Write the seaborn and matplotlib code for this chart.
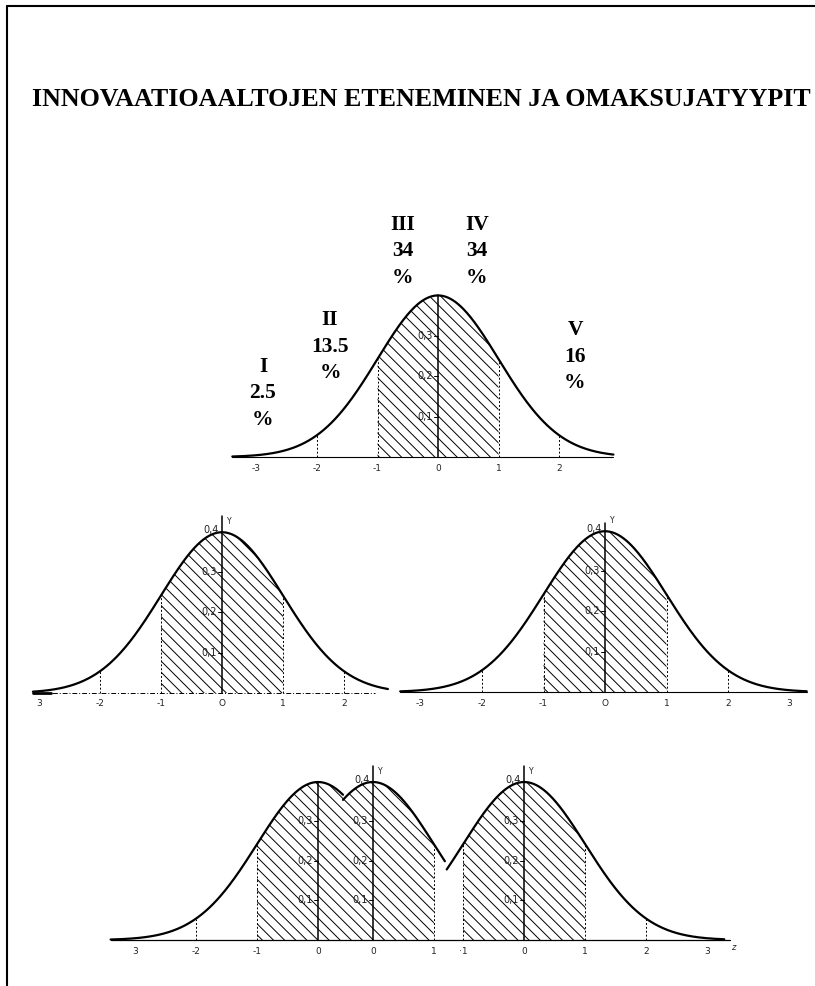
import numpy as np
import matplotlib
matplotlib.use("Agg")
import matplotlib.pyplot as plt
from matplotlib.lines import Line2D
import seaborn as sns

sns.set_style("white")
plt.rcParams["hatch.linewidth"] = 0.7
plt.rcParams["text.color"] = "black"

W, H = 815, 986

title = "INNOVAATIOAALTOJEN ETENEMINEN JA OMAKSUJATYYPIT"

# adopter groups (top curve)
group_names = ["I", "II", "III", "IV", "V"]
group_shares = ["2.5", "13.5", "34", "34", "16"]

# top curve
top_range = (-3.4, 2.9)
top_hatch = (-1, 1)
top_dashed = [-2, -1, 1, 2]
top_ticks = [-3, -2, -1, 0, 1, 2]
top_ticklabels = ["-3", "-2", "-1", "0", "1", "2"]

# middle left curve
ml_range = (-3.1, 2.72)
ml_ticks = [-3, -2, -1, 0, 1, 2]
ml_ticklabels = ["3", "-2", "-1", "O", "1", "2"]

# middle right curve
mr_range = (-3.33, 3.28)
mr_ticks = [-3, -2, -1, 0, 1, 2, 3]
mr_ticklabels = ["-3", "-2", "-1", "O", "1", "2", "3"]

mid_hatch = (-1, 1)
mid_dashed = [-2, -1, 1, 2]

# bottom: three overlapping curves
bot_centers = [0.0, 0.9, 3.38]
bot_ranges = [(-3.4, 0.41), (-0.49, 1.18), (-1.27, 3.28)]
bot_hatch = [(-1, 0.41), (-0.49, 1), (-1, 1)]
bot_dashed = [[-2, -1], [1], [-1, 1, 2]]
bot_ticks = [[-3, -2, -1, 0], [0, 1], [-1, 0, 1, 2, 3]]
bot_ticklabels = [["3", "-2", "-1", "0"], ["0", "1"], ["·1", "0", "1", "2", "3"]]
bot_show_y = [False, True, True]

y_ticks = [0.1, 0.2, 0.3]
y_ticklabels = ["0,1", "0,2", "0,3"]


def pdf(z):
    return np.exp(-z ** 2 / 2) / np.sqrt(2 * np.pi)


fig = plt.figure(figsize=(W / 100, H / 100), dpi=100)
n_axes = [0]


def panel(x0, y0, ux, uy):
    # full-figure transparent axes; data origin at pixel (x0, y0)
    n_axes[0] += 1
    ax = fig.add_axes([0, 0, 1, 1], label=f"p{n_axes[0]}")
    ax.set_facecolor("none")
    ax.axis("off")
    return ax, (x0, y0, ux, uy)


def fix(ax, geo):
    x0, y0, ux, uy = geo
    ax.set_xlim(-x0 / ux, (W - x0) / ux)
    ax.set_ylim((y0 - H) / uy, y0 / uy)


def draw_curve(ax, c, rng, hatch, dashed):
    z = np.linspace(rng[0], rng[1], 300)
    sns.lineplot(x=c + z, y=pdf(z), ax=ax, color="black", linewidth=1.6)
    zh = np.linspace(hatch[0], hatch[1], 200)
    ax.fill_between(c + zh, 0, pdf(zh), facecolor="none", edgecolor="black",
                    hatch="\\\\\\", linewidth=0)
    for d in dashed:
        ax.plot([c + d, c + d], [0, pdf(d)], color="black", lw=0.7,
                ls=(0, (2, 2)))


def draw_axes(ax, c, ticks, labels, ylab_show, geo, peak_line=0.399):
    ux, uy = geo[2], geo[3]
    ax.plot([c, c], [0, peak_line], color="black", lw=1.1)
    for t, lab in zip(ticks, labels):
        ax.text(c + t, -11 / uy, lab, ha="center", va="center", fontsize=6.5,
                color="#222222")
    for yt, yl in zip(y_ticks, y_ticklabels):
        ax.plot([c - 4 / ux, c], [yt, yt], color="black", lw=0.7)
        ax.text(c - 5 / ux, yt, yl, ha="right", va="center", fontsize=7,
                color="#222222")
    if ylab_show:
        ax.text(c - 3 / ux, 0.405, "0,4", ha="right", va="center", fontsize=7,
                color="#222222")
        ax.text(c + 5 / ux, 0.425, "Y", ha="left", va="center", fontsize=5.5,
                color="#222222")


# frame and title
fig.add_artist(Line2D([7 / W, 7 / W], [0, 1 - 6 / H], color="black", lw=1.5))
fig.add_artist(Line2D([7 / W, 1], [1 - 6 / H, 1 - 6 / H], color="black", lw=1.5))
fig.text(421 / W, 1 - 100 / H, title, ha="center", va="center",
         fontsize=18.7, fontweight="bold", family="Liberation Serif")

# top curve
ax, geo = panel(438, 457, 60.5, 405)
draw_curve(ax, 0, top_range, top_hatch, top_dashed)
ax.plot(top_range, [0, 0], color="black", lw=0.8)
draw_axes(ax, 0, top_ticks, top_ticklabels, False, geo)
fix(ax, geo)

label_px = [(263, 367), (330, 320), (403, 225), (477, 225), (575, 330)]
for (px, py), name, share in zip(label_px, group_names, group_shares):
    for k, s in enumerate([name, share, "%"]):
        fig.text(px / W, 1 - (py + 26.5 * k) / H, s, ha="center", va="center",
                 fontsize=15.5, fontweight="bold", family="Liberation Serif")

# middle left
ax, geo = panel(222, 693, 61, 403)
draw_curve(ax, 0, ml_range, mid_hatch, mid_dashed)
ax.plot([ml_range[0], 2.5], [0, 0], color="black", lw=0.7, ls=(0, (5, 2, 1, 2)))
ax.plot([ml_range[0], -2.8], [0, 0], color="black", lw=2)
draw_axes(ax, 0, ml_ticks, ml_ticklabels, True, geo, peak_line=0.44)
fix(ax, geo)

# middle right
ax, geo = panel(605, 692, 61.5, 403)
draw_curve(ax, 0, mr_range, mid_hatch, mid_dashed)
ax.plot(mr_range, [0, 0], color="black", lw=0.8)
draw_axes(ax, 0, mr_ticks, mr_ticklabels, True, geo, peak_line=0.42)
fix(ax, geo)

# bottom
ax, geo = panel(318, 940, 61, 396)
for c, rng, hh, dd in zip(bot_centers, bot_ranges, bot_hatch, bot_dashed):
    draw_curve(ax, c, rng, hh, dd)
ax.plot([bot_ranges[0][0], (730 - 318) / 61], [0, 0], color="black", lw=0.9)
for c, tk, tl, sy in zip(bot_centers, bot_ticks, bot_ticklabels, bot_show_y):
    draw_axes(ax, c, tk, tl, sy, geo, peak_line=0.44 if sy else 0.399)
ax.text((733 - 318) / 61, -7 / 396, "z", fontsize=6, style="italic",
        ha="center", va="center", color="#222222")
fix(ax, geo)

fig.savefig("out.png", dpi=100, facecolor="white")
